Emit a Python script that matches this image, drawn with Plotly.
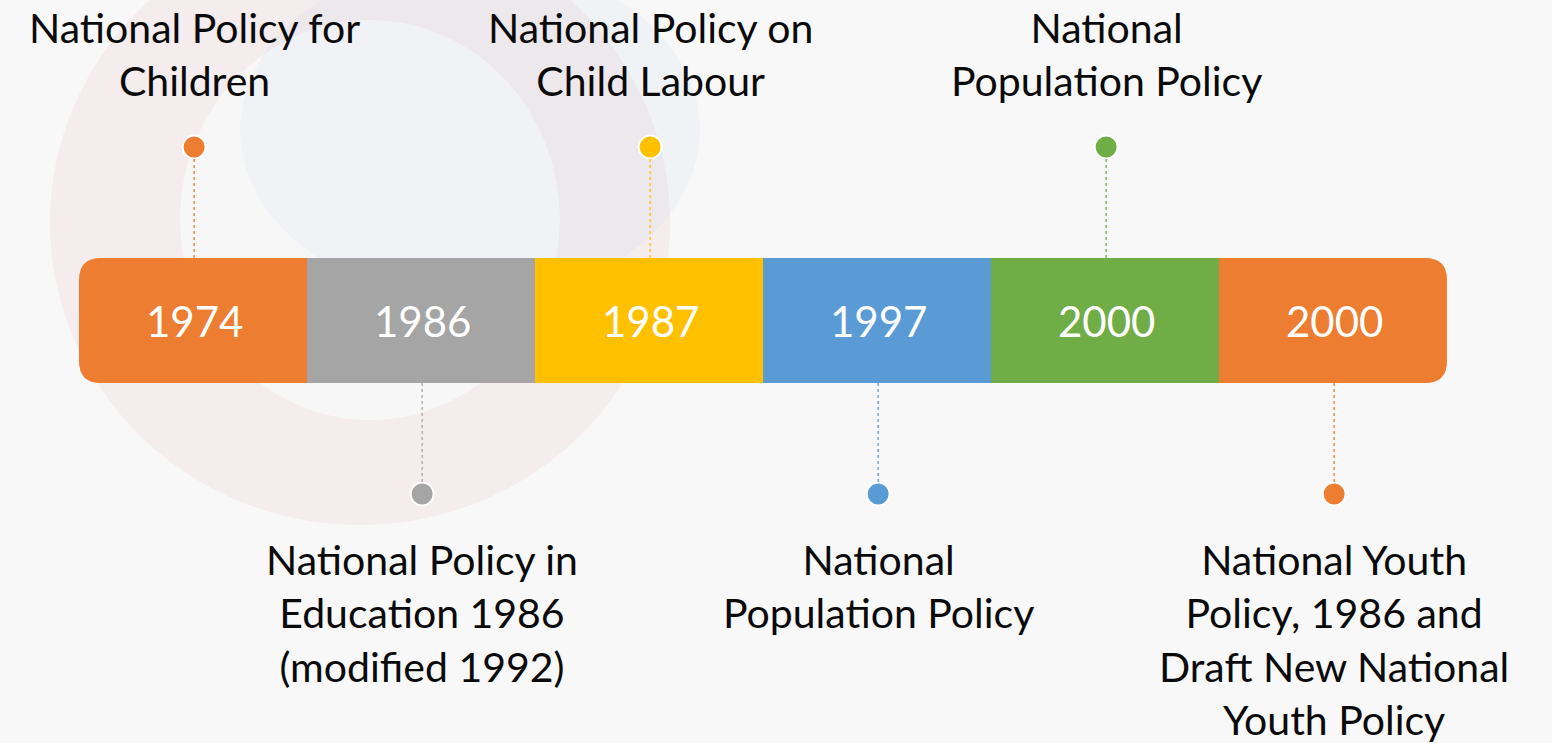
import plotly.graph_objects as go

years = ["1974", "1986", "1987", "1997", "2000", "2000"]
colors = ["#ED7D31", "#A5A5A5", "#FFC000", "#5B9BD5", "#70AD47", "#ED7D31"]
labels = [
    "National Policy for<br>Children",
    "National Policy in<br>Education 1986<br>(modified 1992)",
    "National Policy on<br>Child Labour",
    "National<br>Population Policy",
    "National<br>Population Policy",
    "National Youth<br>Policy, 1986 and<br>Draft New National<br>Youth Policy",
]
sides = ["top", "bottom", "top", "bottom", "top", "bottom"]

W, H = 1552, 743
x0_px, seg_px = 79, 228
bar_top, bar_bot = 258, 383
dot_top, dot_bot = 147, 494
r = 22 / seg_px  # corner radius in x units
ry = 22

FONT = "Lato"

fig = go.Figure()
shapes = []
annotations = []


def px(v):
    return (v - x0_px) / seg_px


# faint background swirl (watermark-like)
shapes.append(dict(type="circle", xref="x", yref="y", layer="below",
                   x0=px(50), x1=px(670), y0=-80, y1=525,
                   line=dict(width=0), fillcolor="rgba(205,90,100,0.07)"))
shapes.append(dict(type="circle", xref="x", yref="y", layer="below",
                   x0=px(180), x1=px(560), y0=20, y1=420,
                   line=dict(width=0), fillcolor="rgba(248,248,248,0.9)"))
shapes.append(dict(type="circle", xref="x", yref="y", layer="below",
                   x0=px(240), x1=px(700), y0=-40, y1=300,
                   line=dict(width=0), fillcolor="rgba(91,155,213,0.05)"))

n = len(years)
for i in range(n):
    xa, xb = i, i + 1
    c = colors[i]
    if i == 0:
        path = (f"M {xa + r},{bar_top} L {xb},{bar_top} L {xb},{bar_bot} L {xa + r},{bar_bot} "
                f"Q {xa},{bar_bot} {xa},{bar_bot - ry} L {xa},{bar_top + ry} Q {xa},{bar_top} {xa + r},{bar_top} Z")
        shapes.append(dict(type="path", path=path, xref="x", yref="y", fillcolor=c, line=dict(width=0)))
    elif i == n - 1:
        path = (f"M {xa},{bar_top} L {xb - r},{bar_top} Q {xb},{bar_top} {xb},{bar_top + ry} "
                f"L {xb},{bar_bot - ry} Q {xb},{bar_bot} {xb - r},{bar_bot} L {xa},{bar_bot} Z")
        shapes.append(dict(type="path", path=path, xref="x", yref="y", fillcolor=c, line=dict(width=0)))
    else:
        shapes.append(dict(type="rect", xref="x", yref="y", x0=xa, x1=xb, y0=bar_top, y1=bar_bot,
                           fillcolor=c, line=dict(width=0)))
    xc = i + 0.505
    annotations.append(dict(x=xc, y=(bar_top + bar_bot) / 2, xref="x", yref="y", text=years[i],
                            showarrow=False, font=dict(family=FONT, size=42, color="white")))
    if sides[i] == "top":
        shapes.append(dict(type="line", xref="x", yref="y", x0=xc, x1=xc, y0=dot_top, y1=bar_top,
                           line=dict(color=c, width=1.3, dash="3px,3px")))
        annotations.append(dict(x=xc, y=54, xref="x", yref="y", text=labels[i], showarrow=False,
                                yanchor="middle", font=dict(family=FONT, size=41, color="#0a0a0a")))
        dy = dot_top
    else:
        shapes.append(dict(type="line", xref="x", yref="y", x0=xc, x1=xc, y0=bar_bot, y1=dot_bot,
                           line=dict(color=c, width=1.3, dash="3px,3px")))
        annotations.append(dict(x=xc, y=533, xref="x", yref="y", text=labels[i], showarrow=False,
                                yanchor="top", font=dict(family=FONT, size=41, color="#0a0a0a")))
        dy = dot_bot
    fig.add_trace(go.Scatter(x=[xc], y=[dy], mode="markers", hoverinfo="skip",
                             marker=dict(size=23, color=c, line=dict(color="white", width=2))))

fig.update_layout(
    width=W, height=H, margin=dict(l=0, r=0, t=0, b=0),
    paper_bgcolor="#F8F8F8", plot_bgcolor="#F8F8F8", showlegend=False,
    xaxis=dict(range=[px(0), px(W)], visible=False, fixedrange=True),
    yaxis=dict(range=[H, 0], visible=False, fixedrange=True),
    shapes=shapes, annotations=annotations,
)
fig.write_html("out.html", config=dict(displayModeBar=False),
               post_script="document.body.style.margin='0';document.body.style.background='#F8F8F8';")
